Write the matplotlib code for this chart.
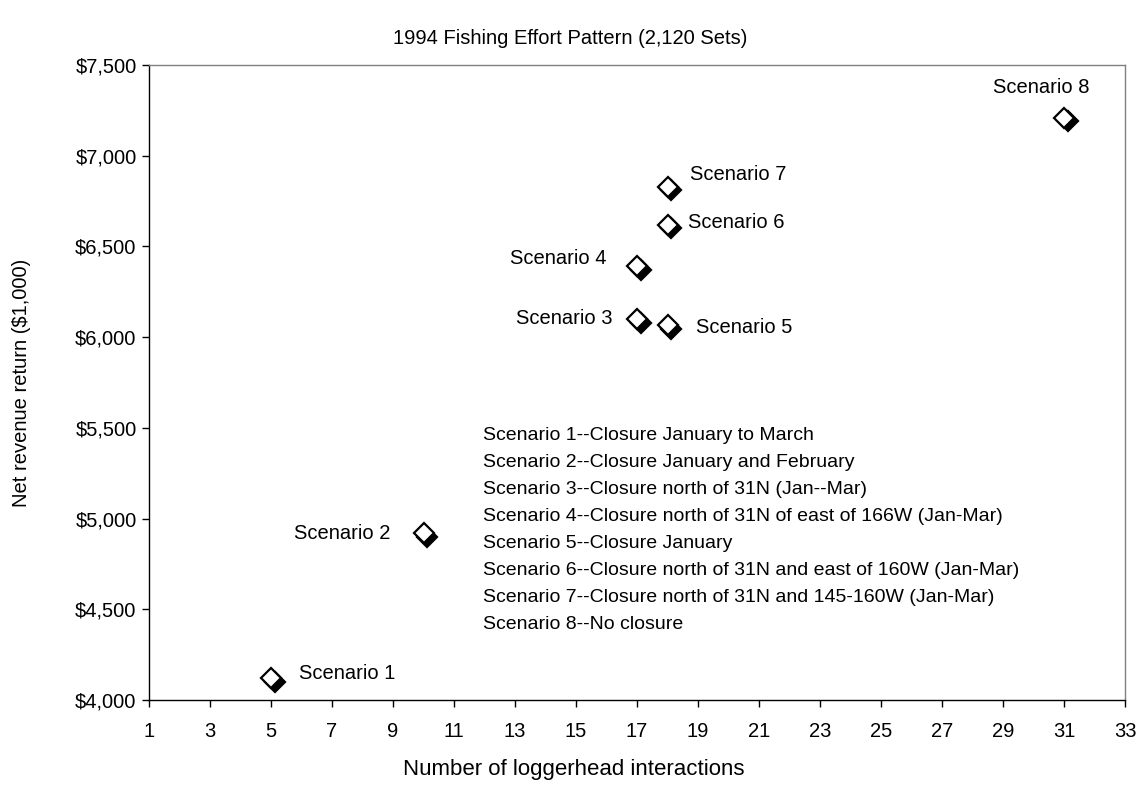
import matplotlib
matplotlib.use("Agg")
import matplotlib.pyplot as plt
import matplotlib.transforms as mtransforms
from matplotlib.ticker import FuncFormatter, MultipleLocator

plt.rcParams['font.family'] = ['Liberation Sans', 'DejaVu Sans']

# Data
scenarios = ["Scenario 1", "Scenario 2", "Scenario 3", "Scenario 4",
             "Scenario 5", "Scenario 6", "Scenario 7", "Scenario 8"]
interactions = [5, 10, 17, 17, 18, 18, 18, 31]
revenue = [4120, 4920, 6100, 6390, 6065, 6620, 6830, 7210]
descriptions = [
    "Scenario 1--Closure January to March",
    "Scenario 2--Closure January and February",
    "Scenario 3--Closure north of 31N (Jan--Mar)",
    "Scenario 4--Closure north of 31N of east of 166W (Jan-Mar)",
    "Scenario 5--Closure January",
    "Scenario 6--Closure north of 31N and east of 160W (Jan-Mar)",
    "Scenario 7--Closure north of 31N and 145-160W (Jan-Mar)",
    "Scenario 8--No closure",
]
title = "1994 Fishing Effort Pattern (2,120 Sets)"
xlabel = "Number of loggerhead interactions"
ylabel = "Net revenue return ($1,000)"

# label offsets (pixels), alignment
label_offsets = [(28, 5, 'left'), (-33, 0, 'right'), (-24, 0, 'right'), (-30, 8, 'right'),
                 (28, -2, 'left'), (20, 2, 'left'), (23, 12, 'left'), (-23, 30, 'center')]

W, H = 1139, 788
dpi = 100
fig = plt.figure(figsize=(W / dpi, H / dpi), dpi=dpi)
L, R, B, T = 149, 1125, 700, 65
ax = fig.add_axes([L / W, (H - B) / H, (R - L) / W, (B - T) / H])

FS = 14.5
ax.set_xlim(1, 33)
ax.set_ylim(4000, 7500)
ax.xaxis.set_major_locator(MultipleLocator(2, offset=1))
ax.yaxis.set_major_locator(MultipleLocator(500))
ax.yaxis.set_major_formatter(FuncFormatter(lambda v, p: "${:,.0f}".format(v)))
ax.tick_params(direction='out', length=5, width=1, labelsize=FS, colors='black', pad=4)
ax.tick_params(axis='x', pad=11)

for s in ['top', 'right']:
    ax.spines[s].set_color('#808080')
for s in ['left', 'bottom']:
    ax.spines[s].set_color('black')
for s in ax.spines.values():
    s.set_linewidth(1)

# shadow markers
shadow = mtransforms.offset_copy(ax.transData, fig=fig, x=3.5, y=-3.5, units='dots')
ax.plot(interactions, revenue, linestyle='none', marker='D', ms=10.5,
        mfc='black', mec='black', mew=1.6, transform=shadow, zorder=3, clip_on=False)
ax.plot(interactions, revenue, linestyle='none', marker='D', ms=10.5,
        mfc='white', mec='black', mew=1.6, zorder=4, clip_on=False)

for name, x, y, (dx, dy, ha) in zip(scenarios, interactions, revenue, label_offsets):
    ax.annotate(name, (x, y), xytext=(dx * 0.72, dy * 0.72), textcoords='offset points',
                ha=ha, va='center', fontsize=FS)

# description list
x0 = (483 - L) / (R - L)
for i, d in enumerate(descriptions):
    ypix = 436 + i * 26.9
    ax.text(x0, (B - ypix) / (B - T), d, transform=ax.transAxes,
            ha='left', va='center', fontsize=14)

fig.text(570 / W, 1 - 38 / H, title, ha='center', va='center', fontsize=FS)
fig.text(574 / W, 1 - 770 / H, xlabel, ha='center', va='center', fontsize=16)
fig.text(22 / W, 1 - 383 / H, ylabel, ha='center', va='center', rotation=90, fontsize=FS)

fig.savefig("out.png", dpi=dpi, facecolor='white')
